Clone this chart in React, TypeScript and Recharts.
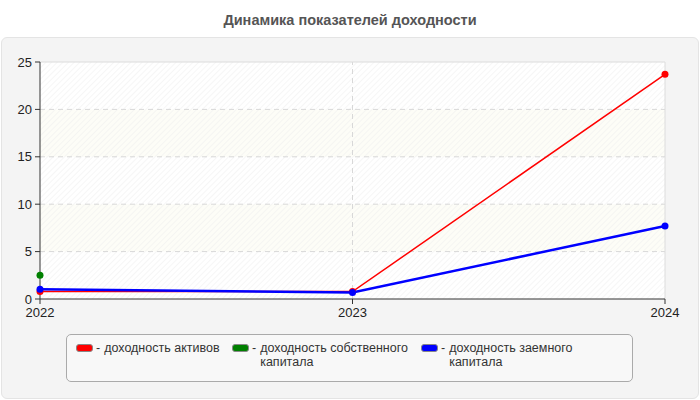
import React from "react";
import {
  LineChart,
  Line,
  XAxis,
  YAxis,
  ReferenceArea,
  ReferenceLine,
} from "recharts";

const years = ["2022", "2023", "2024"];
const assetsReturn = [0.8, 0.78, 23.7];
const equityReturn = [2.5, null, null];
const debtReturn = [1.02, 0.69, 7.7];
const yTicks = [0, 5, 10, 15, 20, 25];
const gridValues = [5, 10, 15, 20];
const bandRanges: [number, number][] = [
  [5, 10],
  [15, 20],
];

const seriesNames = [
  "доходность активов",
  "доходность собственного капитала",
  "доходность заемного капитала",
];
const seriesColors = ["#ff0000", "#008000", "#0000ff"];

const data = years.map((year, i) => ({
  year,
  assets: assetsReturn[i],
  equity: equityReturn[i],
  debt: debtReturn[i],
}));

const FONT = '"Liberation Sans", Arial, sans-serif';

export default function App() {
  return (
    <div
      style={{
        position: "absolute",
        left: 0,
        top: 0,
        width: 700,
        height: 400,
        background: "#fff",
        fontFamily: FONT,
        overflow: "hidden",
      }}
    >
      <div
        style={{
          position: "absolute",
          top: 12,
          left: 0,
          width: 700,
          textAlign: "center",
          fontSize: 14.5,
          fontWeight: "bold",
          color: "#555",
        }}
      >
        Динамика показателей доходности
      </div>
      <div
        style={{
          position: "absolute",
          left: 1,
          top: 37,
          width: 696,
          height: 360,
          background: "#f4f4f4",
          border: "1px solid #e4e4e4",
          borderRadius: 6,
        }}
      />
      <div style={{ position: "absolute", left: 0, top: 0 }}>
        <LineChart
          width={700}
          height={400}
          data={data}
          margin={{ top: 62, right: 35, left: 0, bottom: 71 }}
        >
          <defs>
            <pattern
              id="hatch"
              width="4"
              height="4"
              patternUnits="userSpaceOnUse"
              patternTransform="rotate(45)"
            >
              <line x1="0" y1="0" x2="0" y2="4" stroke="#ededed" strokeWidth="1" />
            </pattern>
          </defs>
          <ReferenceArea y1={0} y2={25} fill="#ffffff" fillOpacity={1} stroke="none" />
          {bandRanges.map(([a, b]) => (
            <ReferenceArea
              key={a}
              y1={a}
              y2={b}
              fill="#fdfdf7"
              fillOpacity={1}
              stroke="none"
            />
          ))}
          <ReferenceArea y1={0} y2={25} fill="url(#hatch)" fillOpacity={1} stroke="none" />
          {gridValues.map((v) => (
            <ReferenceLine key={v} y={v} stroke="#d8d8d8" strokeDasharray="5 4" />
          ))}
          <ReferenceLine x="2023" stroke="#d8d8d8" strokeDasharray="5 4" />
          <ReferenceLine y={25} stroke="#dcdcdc" />
          <ReferenceLine x="2024" stroke="#dcdcdc" />
          <XAxis
            dataKey="year"
            height={30}
            stroke="#333"
            tick={{ fill: "#222", fontSize: 13, fontFamily: FONT }}
            tickSize={5}
            tickMargin={4}
          />
          <YAxis
            width={40}
            domain={[0, 25]}
            ticks={yTicks}
            stroke="#333"
            tick={{ fill: "#222", fontSize: 13, fontFamily: FONT }}
            tickSize={5}
            tickMargin={3}
          />
          <Line
            dataKey="assets"
            stroke={seriesColors[0]}
            strokeWidth={1.5}
            dot={{ r: 3.5, fill: seriesColors[0], stroke: "none" }}
            isAnimationActive={false}
          />
          <Line
            dataKey="equity"
            stroke={seriesColors[1]}
            strokeWidth={1.5}
            dot={{ r: 3.5, fill: seriesColors[1], stroke: "none" }}
            isAnimationActive={false}
          />
          <Line
            dataKey="debt"
            stroke={seriesColors[2]}
            strokeWidth={2.5}
            dot={{ r: 3.5, fill: seriesColors[2], stroke: "none" }}
            isAnimationActive={false}
          />
        </LineChart>
      </div>
      <div
        style={{
          position: "absolute",
          left: 66,
          top: 334,
          width: 567,
          height: 48,
          background: "#f8f8f8",
          border: "1px solid #aaa",
          borderRadius: 5,
          boxSizing: "border-box",
        }}
      >
        {seriesNames.map((name, i) => (
          <div
            key={name}
            style={{
              position: "absolute",
              left: [9, 165, 354][i],
              top: 6,
              display: "flex",
              alignItems: "flex-start",
              fontSize: 12.5,
              color: "#333",
              lineHeight: "14px",
            }}
          >
            <div
              style={{
                width: 15,
                height: 6,
                marginTop: 3,
                background: seriesColors[i],
                border: "1px solid #888",
                borderRadius: 3,
              }}
            />
            <span style={{ marginLeft: 3, marginRight: 4 }}>-</span>
            <span style={{ maxWidth: 150 }}>{name}</span>
          </div>
        ))}
      </div>
    </div>
  );
}
